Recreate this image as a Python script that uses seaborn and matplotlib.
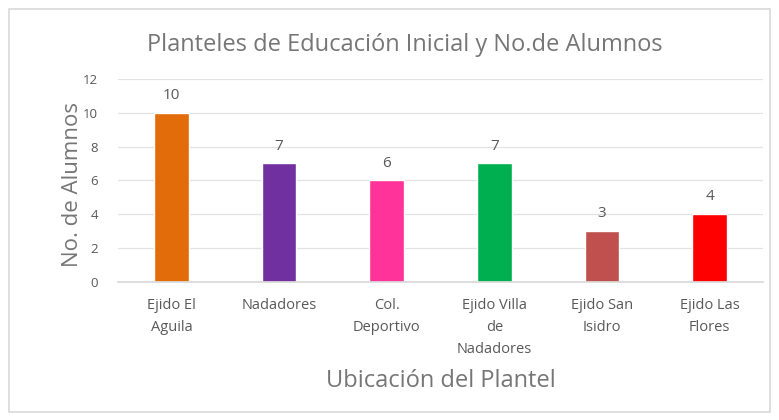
import matplotlib
matplotlib.use("Agg")
import matplotlib.pyplot as plt
import seaborn as sns
import pandas as pd
from matplotlib.patches import Rectangle

categories = ["Ejido El\nAguila", "Nadadores", "Col.\nDeportivo",
              "Ejido Villa\nde\nNadadores", "Ejido San\nIsidro", "Ejido Las\nFlores"]
values = [10, 7, 6, 7, 3, 4]
colors = ["#E36C0A", "#7030A0", "#FF3399", "#00B050", "#C0504D", "#FF0000"]
yticks = [0, 2, 4, 6, 8, 10, 12]

sns.set_theme(style="white")
plt.rcParams['font.family'] = ['Open Sans', 'DejaVu Sans']

df = pd.DataFrame({"cat": categories, "val": values})

fig = plt.figure(figsize=(7.79, 4.20), dpi=100)
ax = fig.add_axes([0.151, 0.329, 0.829, 0.483])

sns.barplot(data=df, x="cat", y="val", hue="cat", palette=colors,
            width=0.32, legend=False, ax=ax, saturation=1)

ax.set_ylim(0, 12)
ax.set_xlim(-0.5, 5.5)
ax.set_yticks(yticks)
ax.set_yticklabels([str(t) for t in yticks], fontsize=9.5, color="#595959")
ax.tick_params(axis="x", labelsize=10.5, labelcolor="#595959", length=0, pad=12)
for lbl in ax.get_xticklabels():
    lbl.set_linespacing(1.6)
ax.tick_params(axis="y", length=0, pad=14)
ax.yaxis.grid(True, color="#E3E3E3", linewidth=0.9)
ax.set_axisbelow(True)
for s in ["top", "right", "left"]:
    ax.spines[s].set_visible(False)
ax.spines["bottom"].set_color("#D9D9D9")

for container in ax.containers:
    ax.bar_label(container, fontsize=11, color="#595959", padding=7)

ax.set_xlabel("Ubicación del Plantel", fontsize=17, color="#767676")
ax.set_ylabel("No. de Alumnos", fontsize=16, color="#767676")
ax.xaxis.set_label_coords(0.5, -0.49)
ax.xaxis.label.set_va("center")
ax.yaxis.set_label_coords(-0.07, 0.48)
ax.yaxis.label.set_va("center")

fig.text(0.52, 0.893, "Planteles de Educación Inicial y No.de Alumnos",
         ha="center", va="center", fontsize=17, color="#767676")

fig.patches.append(Rectangle((0.011, 0.018), 0.978, 0.96, transform=fig.transFigure,
                             fill=False, edgecolor="#D9D9D9", linewidth=1.2))

fig.savefig("out.png", dpi=100)
